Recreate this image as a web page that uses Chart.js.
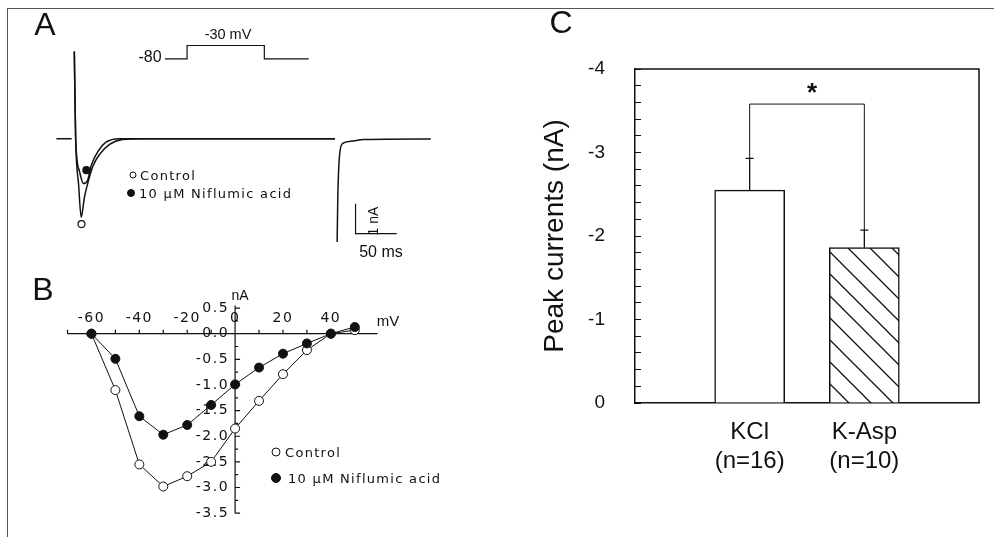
<!DOCTYPE html>
<html>
<head>
<meta charset="utf-8">
<script src="https://cdn.jsdelivr.net/npm/chart.js@4.4.1/dist/chart.umd.min.js"></script>
<style>
  html, body { margin: 0; padding: 0; background: #fff; }
  #fig { position: relative; width: 994px; height: 537px; overflow: hidden;
         font-family: "Liberation Sans", Arial, sans-serif; color: #111; }
  #frame { position: absolute; left: 7px; top: 8px; width: 1000px; height: 600px;
           border-top: 1px solid #555; border-left: 1px solid #555; }
  canvas { position: absolute; }
  .t { position: absolute; line-height: 1; white-space: nowrap; transform: translate(-50%, -50%); }
  .l { position: absolute; line-height: 1; white-space: nowrap; transform: translate(0, -50%); }
  .key { font-family: "DejaVu Sans", sans-serif; font-size: 13px; letter-spacing: 1.3px; }
  .dot { position: absolute; border-radius: 50%; box-sizing: border-box; border: 1.3px solid #111;
         transform: translate(-50%, -50%); }
</style>
</head>
<body>
<div id="fig">
  <div id="frame"></div>
  <canvas id="chartA" width="480" height="260" style="left:0;top:0"></canvas>
  <canvas id="chartB" width="480" height="277" style="left:0;top:260px"></canvas>
  <canvas id="chartC" width="504" height="537" style="left:490px;top:0"></canvas>

  <!-- panel A -->
  <div class="t" style="left:45px;top:24px;font-size:32px">A</div>
  <div class="t" style="left:150px;top:57px;font-size:16px">-80</div>
  <div class="t" style="left:228px;top:34px;font-size:14.5px">-30 mV</div>
  <div class="dot" style="left:133px;top:175px;width:7px;height:7px"></div>
  <div class="l key" style="left:140px;top:175px">Control</div>
  <div class="dot" style="left:131px;top:193px;width:8px;height:8px;background:#111"></div>
  <div class="l key" style="left:139px;top:193px">10 µM Niflumic acid</div>
  <div class="t" style="left:373px;top:221px;font-size:14px;transform:translate(-50%,-50%) rotate(-90deg)">1 nA</div>
  <div class="t" style="left:381px;top:252px;font-size:16px">50 ms</div>

  <!-- panel B -->
  <div class="t" style="left:43px;top:289px;font-size:32px">B</div>
  <div class="t" style="left:240px;top:295px;font-size:14px">nA</div>
  <div class="t" style="left:388px;top:320px;font-size:15px">mV</div>
  <div class="dot" style="left:276px;top:452px;width:9px;height:9px"></div>
  <div class="l key" style="left:285px;top:452px">Control</div>
  <div class="dot" style="left:276px;top:478px;width:10px;height:10px;background:#111"></div>
  <div class="l key" style="left:288px;top:478px">10 µM Niflumic acid</div>

  <!-- panel C -->
  <div class="t" style="left:561px;top:22px;font-size:32px">C</div>
  <div class="t" style="left:812px;top:92px;font-size:26px;font-weight:bold">*</div>
</div>

<script>
// A: whole-cell current traces (time in ms, current in nA)
const baseTime = [-21, -2.4];
const baseCurrent = [0, 0];
const ctrlTime = [0.8, 2.4, 6.0, 9.2, 13.1, 17.9, 23.8, 31.8, 43.7, 59.5, 83, 318];
const ctrlCurrent = [2.93, 0.04, -1.54, -2.64, -1.97, -1.42, -0.90, -0.52, -0.19, -0.03, 0, 0];
const nfaTime = [0.8, 2.4, 7.1, 11.9, 16.7, 21.4, 29.8, 39.3, 55.6, 318];
const nfaCurrent = [2.93, 0.04, -1.10, -1.51, -1.42, -0.90, -0.42, -0.12, 0, 0];
const tailTime = [320.6, 321.4, 323.5, 327.4, 336.9, 353.2, 434.5];
const tailCurrent = [-3.47, -1.97, -0.57, -0.16, -0.09, -0.03, -0.01];
const markTime = [9.5, 15.5];
const markCurrent = [-2.87, -1.06];
// voltage protocol (mV)
const stepTime = [111, 138, 138, 232, 232, 286];
const stepVolt = [-80, -80, -30, -30, -80, -80];
// scale bar: 1 nA, 50 ms
const barTime = [343, 343, 393];
const barCurrent = [-2.19, -3.19, -3.19];

// B: I-V relation
const ivVoltage = [-60, -50, -40, -30, -20, -10, 0, 10, 20, 30, 40, 50];
const ivControl = [0, -1.1, -2.55, -2.98, -2.78, -2.5, -1.85, -1.31, -0.79, -0.32, 0, 0.07];
const ivNfa = [0, -0.49, -1.61, -1.97, -1.78, -1.39, -0.99, -0.66, -0.39, -0.19, 0, 0.13];
const ivXTicks = [-60, -40, -20, 0, 20, 40];
const ivYTicks = [0.5, 0, -0.5, -1, -1.5, -2, -2.5, -3, -3.5];

// C: peak currents
const groups = ['KCl', 'K-Asp'];
const groupN = [16, 10];
const peakMean = [-2.55, -1.86];
const peakSem = [0.38, 0.21];
const bracketLevel = -3.58;

const black = '#111';
const sans = '"Liberation Sans", Arial, sans-serif';
const pts = (xs, ys) => xs.map((x, i) => ({ x: x, y: ys[i] }));

function trace(xs, ys, extra) {
  return Object.assign({
    data: pts(xs, ys), borderColor: black, borderWidth: 1.5,
    pointRadius: 0, fill: false, cubicInterpolationMode: 'monotone'
  }, extra || {});
}

const quiet = { legend: { display: false }, tooltip: { enabled: false } };

// ---------- A ----------
new Chart(document.getElementById('chartA'), {
  type: 'line',
  data: {
    datasets: [
      { data: pts(markTime, markCurrent), showLine: false, pointRadius: 3.5,
        pointBorderWidth: 1.2, pointBorderColor: black, pointBackgroundColor: ['#fff', black] },
      trace(baseTime, baseCurrent),
      trace(ctrlTime, ctrlCurrent),
      trace(nfaTime, nfaCurrent),
      trace(tailTime, tailCurrent),
      trace(stepTime, stepVolt, { yAxisID: 'v', cubicInterpolationMode: 'default', tension: 0, borderWidth: 1.2 }),
      trace(barTime, barCurrent, { cubicInterpolationMode: 'default', tension: 0, borderWidth: 1.2 })
    ]
  },
  options: {
    responsive: false, animation: false, events: [],
    layout: { padding: 0 },
    plugins: quiet,
    scales: {
      x: { type: 'linear', display: false, min: -83.3, max: 488.1 },
      y: { display: false, min: -3.903, max: 4.484 },
      v: { display: false, position: 'right', min: -808.6, max: 120 }
    }
  }
});

// ---------- B ----------
const ivAxes = {
  id: 'ivAxes',
  beforeDatasetsDraw(chart) {
    const { ctx, scales: { x, y } } = chart;
    const x0 = x.getPixelForValue(0), y0 = y.getPixelForValue(0);
    ctx.save();
    ctx.strokeStyle = black;
    ctx.lineWidth = 1.2;
    ctx.beginPath();
    ctx.moveTo(x.getPixelForValue(-70), y0);
    ctx.lineTo(x.getPixelForValue(59.5), y0);
    for (let v = -70; v <= 50; v += 10) {
      const px = x.getPixelForValue(v);
      ctx.moveTo(px, y0);
      ctx.lineTo(px, y0 - 4);
    }
    ctx.moveTo(x0, y.getPixelForValue(0.55));
    ctx.lineTo(x0, y.getPixelForValue(-3.5));
    for (let v = 0.5; v >= -3.5; v -= 0.25) {
      const py = y.getPixelForValue(v);
      ctx.moveTo(x0, py);
      ctx.lineTo(x0 + (Math.abs(v * 2 - Math.round(v * 2)) < 1e-6 ? 5 : 3), py);
    }
    ctx.stroke();

    ctx.fillStyle = black;
    ctx.font = '14px "DejaVu Sans", sans-serif';
    ctx.letterSpacing = '1.5px';
    ctx.textBaseline = 'middle';
    ctx.textAlign = 'center';
    ivXTicks.forEach(v => ctx.fillText(String(v), x.getPixelForValue(v), y0 - 15));
    ctx.textAlign = 'right';
    ivYTicks.forEach(v => ctx.fillText(v.toFixed(1), x0 - 6, y.getPixelForValue(v)));
    ctx.restore();
  }
};

new Chart(document.getElementById('chartB'), {
  type: 'line',
  data: {
    datasets: [
      { data: pts(ivVoltage, ivNfa), borderColor: black, borderWidth: 1, pointRadius: 4.5,
        pointBackgroundColor: black, pointBorderColor: black, pointBorderWidth: 1 },
      { data: pts(ivVoltage, ivControl), borderColor: black, borderWidth: 1, pointRadius: 4.5,
        pointBackgroundColor: '#fff', pointBorderColor: black, pointBorderWidth: 1 }
    ]
  },
  options: {
    responsive: false, animation: false, events: [],
    layout: { padding: 0 },
    plugins: quiet,
    scales: {
      x: { type: 'linear', display: false, min: -95.9, max: 100 },
      y: { display: false, min: -3.858, max: 1.33 }
    }
  },
  plugins: [ivAxes]
});

// ---------- C ----------
function hatch() {
  const s = 22, c = document.createElement('canvas');
  c.width = s; c.height = s;
  const g = c.getContext('2d');
  g.fillStyle = '#fff';
  g.fillRect(0, 0, s, s);
  g.strokeStyle = black;
  g.lineWidth = 1.3;
  g.beginPath();
  g.moveTo(-2, -2); g.lineTo(s + 2, s + 2);
  g.moveTo(s - 2, -2); g.lineTo(s + 2, 2);
  g.moveTo(-2, s - 2); g.lineTo(2, s + 2);
  g.stroke();
  return g.createPattern(c, 'repeat');
}

const errorBars = {
  id: 'errorBars',
  afterDatasetsDraw(chart) {
    const { ctx, scales: { y }, chartArea: a } = chart;
    const bars = chart.getDatasetMeta(0).data;
    ctx.save();
    ctx.strokeStyle = black;
    ctx.lineWidth = 1.3;
    const tops = [];
    peakMean.forEach((m, i) => {
      const bx = bars[i + 1].x;
      const yb = y.getPixelForValue(m), yt = y.getPixelForValue(m - peakSem[i]);
      ctx.beginPath();
      ctx.moveTo(bx, yb); ctx.lineTo(bx, yt);
      ctx.moveTo(bx - 4, yt); ctx.lineTo(bx + 4, yt);
      ctx.stroke();
      tops.push([bx, yt]);
    });
    const yl = y.getPixelForValue(bracketLevel);
    ctx.lineWidth = 1;
    ctx.beginPath();
    ctx.moveTo(tops[0][0], tops[0][1]);
    ctx.lineTo(tops[0][0], yl);
    ctx.lineTo(tops[1][0], yl);
    ctx.lineTo(tops[1][0], tops[1][1]);
    ctx.stroke();
    // box frame
    ctx.lineWidth = 1.5;
    ctx.beginPath();
    ctx.moveTo(a.left, a.top);
    ctx.lineTo(a.right, a.top);
    ctx.lineTo(a.right, a.bottom);
    ctx.stroke();
    ctx.restore();
  }
};

new Chart(document.getElementById('chartC'), {
  type: 'bar',
  data: {
    labels: [''].concat(groups, ['']),
    datasets: [{
      data: [null].concat(peakMean, [null]),
      backgroundColor: ['#fff', '#fff', hatch(), '#fff'],
      borderColor: black, borderWidth: 1.5, barThickness: 70
    }]
  },
  options: {
    responsive: false, animation: false, events: [],
    layout: { padding: { top: 69, right: 12, bottom: 34, left: 0 } },
    plugins: quiet,
    scales: {
      x: {
        offset: false,
        grid: { display: false, drawTicks: false },
        border: { color: black, width: 1.5 },
        ticks: {
          color: black, font: { size: 24, family: sans }, padding: 15,
          maxRotation: 0, autoSkip: false,
          callback: (v, i) => (i > 0 && i <= groups.length) ? [groups[i - 1], '(n=' + groupN[i - 1] + ')'] : ''
        },
        afterFit: s => { s.height = 100; }
      },
      y: {
        min: -4, max: 0, reverse: true,
        grid: { drawOnChartArea: false, drawTicks: true, tickLength: -6, color: black, tickWidth: 1 },
        border: { color: black, width: 1.5 },
        ticks: {
          stepSize: 0.2, autoSkip: false, color: black, padding: 36,
          font: { size: 19, family: sans },
          callback: v => Math.abs(v - Math.round(v)) < 1e-6 ? String(Math.round(v) || 0) : ''
        },
        title: { display: true, text: 'Peak currents (nA)', color: black,
                 font: { size: 28, family: sans }, padding: { top: 48, bottom: 0 } },
        afterFit: s => { s.width = 145; }
      }
    }
  },
  plugins: [errorBars]
});
</script>
</body>
</html>
